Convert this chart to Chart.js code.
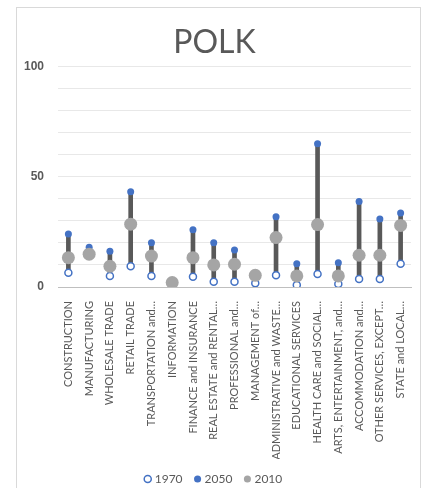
<!DOCTYPE html>
<html>
<head>
<meta charset="utf-8">
<script src="https://cdn.jsdelivr.net/npm/chart.js@4/dist/chart.umd.min.js"></script>
<style>
  html, body { margin: 0; padding: 0; background: #ffffff; }
  #wrap { position: relative; width: 429px; height: 488px; overflow: hidden; }
  #frame { position: absolute; left: 16px; top: 7px; width: 405px; height: 500px; border: 1px solid #d9d9d9; box-sizing: border-box; pointer-events: none; }
  canvas { position: absolute; left: 0; top: 0; }
</style>
</head>
<body>
<div id="wrap">
  <div id="frame"></div>
  <canvas id="chart" width="429" height="488"></canvas>
</div>
<script>
// Industry sectors (employment share, %) for Polk
const categories = [
  "CONSTRUCTION", "MANUFACTURING", "WHOLESALE TRADE", "RETAIL TRADE",
  "TRANSPORTATION and\u2026", "INFORMATION", "FINANCE and INSURANCE",
  "REAL ESTATE and RENTAL\u2026", "PROFESSIONAL and\u2026", "MANAGEMENT of\u2026",
  "ADMINISTRATIVE and WASTE\u2026", "EDUCATIONAL SERVICES", "HEALTH CARE and SOCIAL\u2026",
  "ARTS, ENTERTAINMENT, and\u2026", "ACCOMMODATION and\u2026", "OTHER SERVICES, EXCEPT\u2026",
  "STATE and LOCAL\u2026"
];
const values1970 = [6.5, 16, 5, 9.4, 5, 2.5, 4.7, 2.4, 2.4, 1.7, 5.3, 0.9, 5.9, 1.4, 3.6, 3.6, 10.5];
const values2050 = [24, 18, 16.2, 43.2, 20.1, 2.2, 25.9, 20.1, 16.8, 5.5, 31.8, 10.5, 64.9, 11, 38.8, 30.8, 33.6];
const values2010 = [13.3, 14.9, 9.4, 28.5, 14, 2, 13.3, 10, 10.3, 5.3, 22.4, 5, 28.3, 5, 14.4, 14.4, 27.9];
const yTickLabels = [0, 50, 100];

const BLUE = "#4472C4";
const GRAY = "#A5A5A5";
const DARK = "#595959";

// vertical connector from the 1970 value to the 2050 value
const rangeBars = categories.map((_, i) => [
  Math.min(values1970[i], values2050[i]),
  Math.max(values1970[i], values2050[i])
]);

new Chart(document.getElementById("chart"), {
  data: {
    labels: categories,
    datasets: [
      {
        type: "line", label: "1970", data: values1970, showLine: false, order: 2,
        pointStyle: "circle", pointRadius: 3.5, pointHoverRadius: 3.5, pointBorderWidth: 1.5,
        pointBorderColor: BLUE, pointBackgroundColor: "#ffffff",
        borderColor: BLUE, backgroundColor: "#ffffff"
      },
      {
        type: "line", label: "2050", data: values2050, showLine: false, order: 1,
        pointStyle: "circle", pointRadius: 3.5, pointHoverRadius: 3.5, pointBorderWidth: 0,
        pointBorderColor: BLUE, pointBackgroundColor: BLUE,
        borderColor: BLUE, backgroundColor: BLUE
      },
      {
        type: "line", label: "2010", data: values2010, showLine: false, order: 0,
        pointStyle: "circle", pointRadius: 6.5, pointHoverRadius: 6.5, pointBorderWidth: 0,
        pointBorderColor: GRAY, pointBackgroundColor: GRAY,
        borderColor: GRAY, backgroundColor: GRAY
      },
      {
        type: "bar", label: "range", data: rangeBars, order: 3,
        backgroundColor: DARK, borderWidth: 0, barThickness: 4
      }
    ]
  },
  options: {
    responsive: false,
    animation: false,
    events: [],
    layout: { padding: { left: 18, right: 18, top: 0, bottom: -7 } },
    plugins: {
      tooltip: { enabled: false },
      title: {
        display: true, text: "POLK", color: DARK,
        font: { family: "Lato", size: 32, weight: "normal" },
        padding: { top: 23, bottom: 5 }
      },
      legend: {
        position: "bottom",
        labels: {
          filter: (item) => item.text !== "range",
          sort: (a, b) => a.datasetIndex - b.datasetIndex,
          usePointStyle: true, boxWidth: 2, boxHeight: 5, padding: 14,
          color: DARK, font: { family: "Lato", size: 12 }
        }
      }
    },
    scales: {
      x: {
        type: "category", offset: true,
        grid: { display: false },
        border: { display: true, color: "#bfbfbf" },
        ticks: {
          autoSkip: false, minRotation: 90, maxRotation: 90, padding: 6,
          color: DARK, font: { family: "Lato", size: 11 }
        },
        afterFit: (s) => { s.height = 172; }
      },
      y: {
        min: 0, max: 100,
        grid: {
          drawTicks: false,
          color: (c) => c.tick.value === 0 ? "#bfbfbf" : "#e8e8e8"
        },
        border: { display: false },
        ticks: {
          stepSize: 10, padding: 14, color: DARK,
          font: { family: "Liberation Sans", size: 12, weight: "bold" },
          callback: (v) => yTickLabels.includes(v) ? String(v) : ""
        },
        afterFit: (s) => { s.width = 40; }
      }
    }
  }
});
</script>
</body>
</html>
